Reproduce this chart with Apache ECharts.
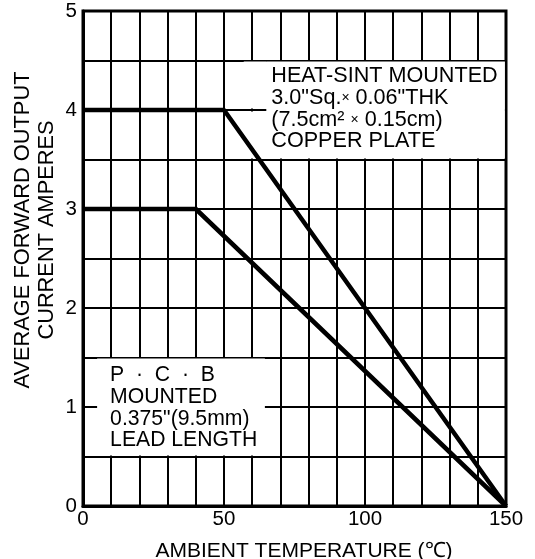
<!DOCTYPE html>
<html>
<head>
<meta charset="utf-8">
<script src="https://cdn.jsdelivr.net/npm/echarts@6/dist/echarts.min.js"></script>
<style>html,body{margin:0;padding:0;background:#fff}#c{width:535px;height:559px}</style>
</head>
<body>
<div id="c"></div>
<script>
// ---- data ----
const heatSinkX = [0, 50, 150];
const heatSinkY = [4, 4, 0];
const pcbX = [0, 40, 150];
const pcbY = [3, 3, 0];
const xTickLabels = [0, 50, 100, 150];
const yTickLabels = [0, 1, 2, 3, 4, 5];
const xTitle = 'AMBIENT TEMPERATURE (℃)';
const yTitle = ['AVERAGE FORWARD OUTPUT', 'CURRENT AMPERES'];
const heatSinkNote = ['HEAT-SINT MOUNTED', '3.0"Sq.{s|×} 0.06"THK', '(7.5cm² {s|×} 0.15cm)', 'COPPER PLATE'];
const pcbNote = ['P  ·  C  ·  B', 'MOUNTED', '0.375"(9.5mm)', 'LEAD LENGTH'];

const FONT = '"Liberation Sans", Arial, Helvetica, sans-serif';
const chart = echarts.init(document.getElementById('c'), null, {renderer: 'canvas'});

const noteLabel = (txt, off, size) => ({
  show: true,
  position: 'insideTopLeft',
  distance: 0,
  offset: off,
  formatter: txt.join('\n'),
  color: '#000',
  fontFamily: FONT,
  fontSize: size,
  lineHeight: 21.7,
  rich: { s: { fontSize: 14, lineHeight: 21.7, color: '#000', fontFamily: FONT } }
});

const whiteArea = { color: '#fff', opacity: 1, borderWidth: 0 };

chart.setOption({
  animation: false,
  backgroundColor: '#fff',
  grid: { left: 83, right: 29, top: 11, bottom: 53, show: true, borderColor: '#000', borderWidth: 3, backgroundColor: 'transparent' },
  xAxis: {
    type: 'value', min: 0, max: 150, interval: 10,
    axisLine: { show: true, lineStyle: { color: '#000', width: 3 } },
    axisTick: { show: false },
    splitLine: { show: true, lineStyle: { color: '#000', width: 2 } },
    axisLabel: {
      margin: 3, color: '#000', fontFamily: FONT, fontSize: 20.5,
      formatter: v => xTickLabels.includes(v) ? String(v) : ''
    }
  },
  yAxis: {
    type: 'value', min: 0, max: 5, interval: 0.5,
    axisLine: { show: true, lineStyle: { color: '#000', width: 3 } },
    axisTick: { show: false },
    splitLine: { show: true, lineStyle: { color: '#000', width: 2 } },
    axisLabel: {
      margin: 6, color: '#000', fontFamily: FONT, fontSize: 20.5,
      formatter: v => yTickLabels.includes(v) ? String(v) : ''
    }
  },
  graphic: [
    { type: 'text', x: 35, y: 230, rotation: Math.PI / 2,
      style: { text: yTitle.join('\n'), fill: '#000', font: '21.8px ' + FONT, textAlign: 'center', textVerticalAlign: 'middle', lineHeight: 23.5 } },
    { type: 'text', x: 304, y: 551,
      style: { text: xTitle, fill: '#000', font: '21px ' + FONT, textAlign: 'center', textVerticalAlign: 'middle' } }
  ],
  series: [
    {
      type: 'line', name: 'heat sink', z: 3,
      data: heatSinkX.map((x, i) => [x, heatSinkY[i]]),
      symbol: 'none', lineStyle: { color: '#000', width: 4.5 }, silent: true,
      markArea: {
        silent: true,
        data: [
          [ { coord: [65, 4.49], itemStyle: whiteArea, label: noteLabel(heatSinkNote, [5, 4], 21.6) }, { coord: [149.6, 3.51] } ],
          [ { coord: [57, 4.49], itemStyle: whiteArea, label: { show: false } }, { coord: [65, 4.015] } ],
          [ { coord: [57, 3.985], itemStyle: whiteArea, label: { show: false } }, { coord: [65, 3.51] } ]
        ]
      }
    },
    {
      type: 'line', name: 'pcb', z: 3,
      data: pcbX.map((x, i) => [x, pcbY[i]]),
      symbol: 'none', lineStyle: { color: '#000', width: 4.5 }, silent: true,
      markArea: {
        silent: true,
        data: [
          [ { coord: [5, 1.49], itemStyle: whiteArea, label: noteLabel(pcbNote, [13, 6], 21.2) }, { coord: [64.5, 0.51] } ]
        ]
      }
    }
  ]
});
</script>
</body>
</html>
